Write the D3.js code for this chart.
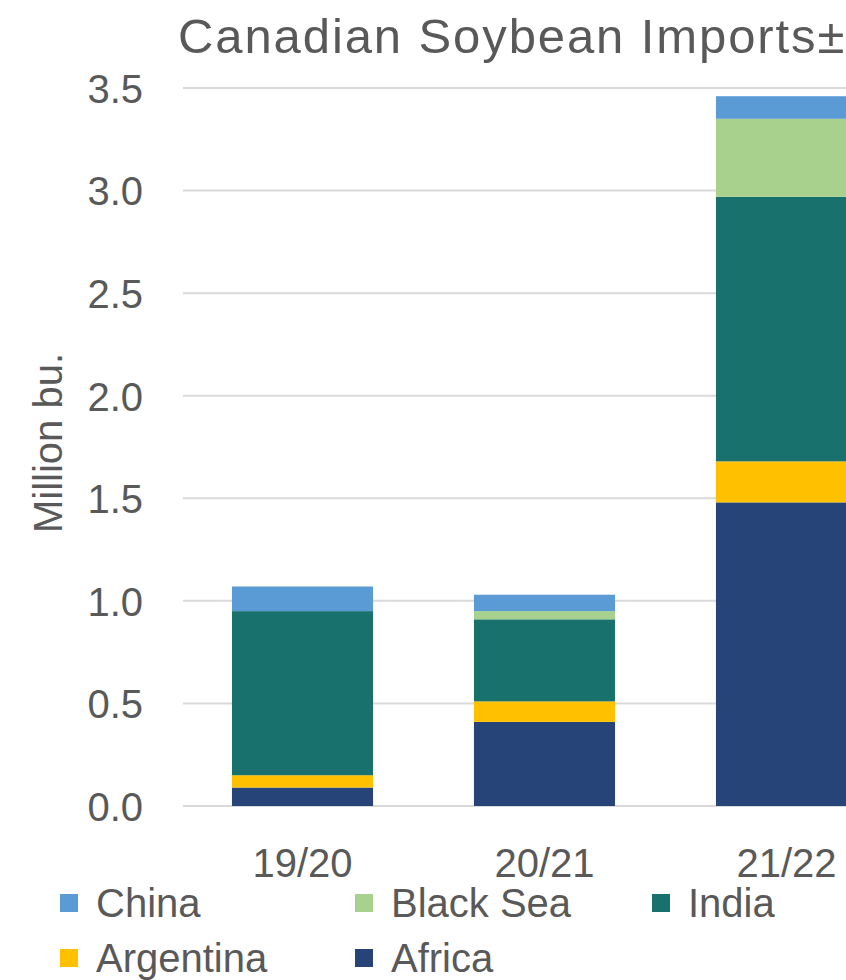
<!DOCTYPE html>
<html><head><meta charset="utf-8">
<script src="https://cdn.jsdelivr.net/npm/d3@7"></script>
<style>
html,body{margin:0;padding:0;background:#fff;overflow:hidden;}
text{font-family:"Liberation Sans",Arial,sans-serif;fill:#595959;}
</style></head>
<body>
<svg id="chart" width="846" height="980"></svg>
<script>
const categories = ["19/20", "20/21", "21/22"];
const seriesNames = ["Africa", "Argentina", "India", "Black Sea", "China"];
const africa    = [0.09, 0.41, 1.48];
const argentina = [0.06, 0.10, 0.20];
const india     = [0.80, 0.40, 1.29];
const blackSea  = [0.00, 0.04, 0.38];
const china     = [0.12, 0.08, 0.11];
const yTicks = [0, 0.5, 1.0, 1.5, 2.0, 2.5, 3.0, 3.5];
const legendOrder = ["China", "Black Sea", "India", "Argentina", "Africa"];
const colors = {"China":"#5B9BD5","Black Sea":"#A9D18E","India":"#19716D","Argentina":"#FFC000","Africa":"#264478"};

const seriesVals = {"Africa":africa,"Argentina":argentina,"India":india,"Black Sea":blackSea,"China":china};
const table = categories.map((c,i)=>{
  const row={cat:c};
  seriesNames.forEach(s=>row[s]=seriesVals[s][i]);
  return row;
});

const svg = d3.select("#chart");
const x = d3.scaleBand().domain(categories).range([181.5, 907.5]).paddingInner(0.417).paddingOuter(0.2085);
const y = d3.scaleLinear().domain([0,3.5]).range([806, 88]);

// gridlines
svg.append("g").selectAll("line").data(yTicks).join("line")
  .attr("x1",183).attr("x2",846)
  .attr("y1",d=>y(d)).attr("y2",d=>y(d))
  .attr("stroke","#D9D9D9").attr("stroke-width",2);

// y tick labels
const yAxis = d3.axisLeft(y).tickValues(yTicks).tickFormat(d3.format(".1f")).tickSize(0).tickPadding(0);
const ya = svg.append("g").attr("transform","translate(143,0)").call(yAxis);
ya.select(".domain").remove();
ya.selectAll("text").attr("font-size",40).attr("fill","#595959")
  .attr("font-family","Liberation Sans, Arial, sans-serif").attr("dy","0.36em");

// stacked bars
const stack = d3.stack().keys(seriesNames)(table);
svg.append("g").selectAll("g").data(stack).join("g")
  .attr("fill",d=>colors[d.key])
  .selectAll("rect").data(d=>d).join("rect")
  .attr("x",d=>x(d.data.cat)).attr("width",x.bandwidth())
  .attr("y",d=>y(d[1])).attr("height",d=>Math.max(0,y(d[0])-y(d[1])));

// x labels
const xAxis = d3.axisBottom(x).tickSize(0).tickPadding(0);
const xa = svg.append("g").attr("transform","translate(0,848)").call(xAxis);
xa.select(".domain").remove();
xa.selectAll("text").attr("font-size",40).attr("fill","#595959")
  .attr("font-family","Liberation Sans, Arial, sans-serif").attr("dy","0.72em");

// title
svg.append("text").attr("x",178).attr("y",53).attr("font-size",49)
  .attr("letter-spacing","1.9px").text("Canadian Soybean Imports±");

// y label
svg.append("text").attr("transform","translate(62,443) rotate(-90)")
  .attr("text-anchor","middle").attr("font-size",40).text("Million bu.");

// legend
const legPos = [[60,903],[355,903],[652,903],[60,958],[355,958]];
const leg = svg.append("g").selectAll("g").data(legendOrder).join("g")
  .attr("transform",(d,i)=>`translate(${legPos[i][0]},${legPos[i][1]})`);
leg.append("rect").attr("x",0).attr("y",-9).attr("width",18).attr("height",18).attr("fill",d=>colors[d]);
leg.append("text").attr("x",36).attr("y",14).attr("font-size",40).text(d=>d);
</script>
</body></html>
